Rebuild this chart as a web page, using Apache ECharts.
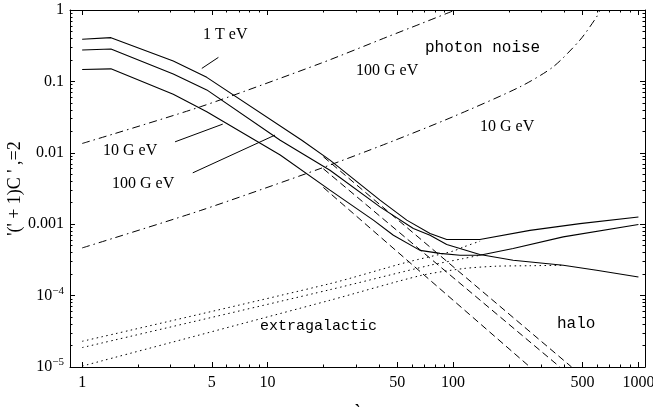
<!DOCTYPE html>
<html>
<head>
<meta charset="utf-8">
<script src="https://cdn.jsdelivr.net/npm/echarts@6/dist/echarts.min.js"></script>
<style>html,body{margin:0;padding:0;background:#fff}#c{width:653px;height:409px}</style>
</head>
<body>
<div id="c"></div>
<script>
// ---- data (ell, value) ----
const total1TeV = [[1,0.39],[1.43,0.41],[3.1,0.193],[4.7,0.114],[15.3,0.0150],[21.7,7.9e-3],[40.4,2.17e-3],[56.3,1.14e-3],[75.2,7.4e-4],[92.5,6.1e-4],[139.5,6.1e-4],[260,8.2e-4],[484,1.02e-3],[1000,1.26e-3]];
const total100GeV = [[1,0.275],[1.43,0.284],[3.1,0.127],[4.7,0.076],[11.7,0.0150],[21.7,5.7e-3],[40.4,1.75e-3],[61.1,8.7e-4],[75.2,7.0e-4],[92.5,5.2e-4],[139.5,3.76e-4],[211,3.13e-4],[393,2.66e-4],[595,2.26e-4],[1000,1.82e-4]];
const total10GeV = [[1,0.147],[1.43,0.15],[3.1,0.066],[4.7,0.0376],[11.7,9.3e-3],[21.7,3.0e-3],[37.2,1.14e-3],[47.7,7.0e-4],[66.4,4.3e-4],[85.1,3.9e-4],[109,3.67e-4],[139.5,3.67e-4],[211,4.56e-4],[393,6.64e-4],[1000,9.9e-4]];
const galactic1TeV = [[20,8.8e-3],[436,1e-5]];
const galactic100GeV = [[20,5.97e-3],[377,1e-5]];
const galactic10GeV = [[20,3.27e-3],[260,1e-5]];
const dottedA = [[1,2.29e-5],[21.7,1.47e-4],[56.3,2.93e-4],[100,4.2e-4],[114,4.8e-4],[140,5.8e-4]];
const dottedB = [[1,1.87e-5],[21.7,1.21e-4],[75.2,2.66e-4],[113.6,3.3e-4],[139.5,3.67e-4]];
const dottedHalo = [[1,1.03e-5],[21.7,8.6e-5],[66.4,1.9e-4],[113.6,2.39e-4],[171,2.58e-4],[260,2.62e-4],[393,2.66e-4]];
const noise100GeV = [[1,0.0135],[4.33,0.044],[19.2,0.178],[43.9,0.417],[66.4,0.636],[103,1.0]];
const noise10GeV = [[1,4.65e-4],[4.33,1.55e-3],[19.2,6.0e-3],[43.9,0.0135],[100,0.032],[230,0.084],[347,0.16],[484,0.38],[595,0.8],[620,1.0]];
const leader1TeV = [[4.42,0.152],[5.43,0.217]];
const leader10GeV = [[3.17,0.01425],[5.73,0.0252]];
const leader100GeV = [[3.95,5.24e-3],[10.97,0.0177]];
const xMajorTicks = [1,5,10,50,100,500,1000];
const xMinorTicks = [1,2,3,4,5,6,7,8,9,10,20,30,40,50,60,70,80,90,100,200,300,400,500,600,700,800,900,1000];
const yMinorTicks = [];
[1e-5,1e-4,1e-3,1e-2,1e-1].forEach(d=>{for(let k=1;k<=9;k++) yMinorTicks.push(+(d*k).toPrecision(3));});
yMinorTicks.push(1);

const chart = echarts.init(document.getElementById('c'), null, {renderer:'canvas'});
const black = '#000';
const serif = 'Liberation Serif';
const XMIN = 0.86, XMAX = 1085;

function xAxisDef(pos, major, showLabel, name) {
  return {
    type:'log', logBase:10, min:XMIN, max:XMAX, position:pos, offset:0,
    axisLine:{show:major, lineStyle:{color:black,width:1}},
    axisTick:{show:true, inside:true, length: major?5:2.5, lineStyle:{color:black,width:1},
      customValues: major ? xMajorTicks : xMinorTicks},
    axisLabel:{show:showLabel, customValues: xMajorTicks, color:black, fontFamily:serif, fontSize:16, margin:8,
      formatter: v => String(Math.round(v))},
    splitLine:{show:false}, minorTick:{show:false},
    name: name || '', nameLocation:'middle', nameGap:36, nameMoveOverlap:false,
    nameTextStyle:{color:black, fontFamily:serif, fontSize:18, fontWeight:'bold'}
  };
}
function yAxisDef(pos, major, showLabel, name) {
  return {
    type:'log', logBase:10, min:1e-5, max:1, position:pos, offset:0,
    axisLine:{show:major, lineStyle:{color:black,width:1}},
    axisTick:{show:true, inside:true, length: major?5:2.5, lineStyle:{color:black,width:1},
      customValues: major ? undefined : yMinorTicks},
    axisLabel:{show:showLabel, color:black, fontFamily:serif, fontSize:16, margin:6,
      formatter: v => {
        const e = Math.round(Math.log10(v));
        if (e >= -3) return '{b|' + (e===0?'1':(Math.pow(10,e)).toFixed(-e)) + '}';
        return '{b|10}{s|\u2212' + (-e) + '}';
      },
      rich:{ b:{fontFamily:serif, fontSize:16, color:black, lineHeight:20},
             s:{fontFamily:serif, fontSize:11, color:black, lineHeight:12, verticalAlign:'top'} }
    },
    splitLine:{show:false}, minorTick:{show:false},
    name: name || '', nameLocation:'middle', nameGap:46, nameRotate:90, nameMoveOverlap:false,
    nameTextStyle:{color:black, fontFamily:serif, fontSize:18}
  };
}

function line(data, type, width) {
  return { type:'line', data:data, xAxisIndex:0, yAxisIndex:0, symbol:'none', silent:true,
    smooth:false, clip:true, animation:false,
    lineStyle:{color:black, width: width||1, type:type} };
}
function curve(data, type) {
  const s = line(data, type, 1); s.smooth = 0.25; return s;
}

const option = {
  backgroundColor:'#fff',
  animation:false,
  grid:{left:70, right:8, top:10, bottom:42, containLabel:false, outerBoundsMode:'none'},
  xAxis:[ xAxisDef('bottom', true, true, '`'), xAxisDef('bottom', false, false),
          xAxisDef('top', true, false), xAxisDef('top', false, false) ],
  yAxis:[ yAxisDef('left', true, true, "'(' + 1)C ' ,=2"), yAxisDef('left', false, false),
          yAxisDef('right', true, false), yAxisDef('right', false, false) ],
  series:[
    line(total1TeV,'solid',1.1), line(total100GeV,'solid',1.1), line(total10GeV,'solid',1.1),
    line(galactic1TeV,[7,4]), line(galactic100GeV,[7,4]), line(galactic10GeV,[7,4]),
    curve(dottedA,[1.5,3.5]), curve(dottedB,[1.5,3.5]), curve(dottedHalo,[1.5,3.5]),
    curve(noise100GeV,[8,4,1.5,4]), curve(noise10GeV,[8,4,1.5,4]),
    line(leader1TeV,'solid',1), line(leader10GeV,'solid',1), line(leader100GeV,'solid',1)
  ],
  graphic:[
    {type:'text', left:203, top:27, style:{text:'1 T eV', font:'16px "Liberation Serif"', fill:black}},
    {type:'text', left:103, top:143, style:{text:'10 G eV', font:'16px "Liberation Serif"', fill:black}},
    {type:'text', left:112, top:176, style:{text:'100 G eV', font:'16px "Liberation Serif"', fill:black}},
    {type:'text', left:356, top:63, style:{text:'100 G eV', font:'16px "Liberation Serif"', fill:black}},
    {type:'text', left:480, top:119, style:{text:'10 G eV', font:'16px "Liberation Serif"', fill:black}},
    {type:'text', left:425, top:40, style:{text:'photon noise', font:'16px "Liberation Mono"', fill:black}},
    {type:'text', left:260, top:319, style:{text:'extragalactic', font:'15px "Liberation Mono"', fill:black}},
    {type:'text', left:557, top:316, style:{text:'halo', font:'16px "Liberation Mono"', fill:black}}
  ]
};
chart.setOption(option);
</script>
</body>
</html>
